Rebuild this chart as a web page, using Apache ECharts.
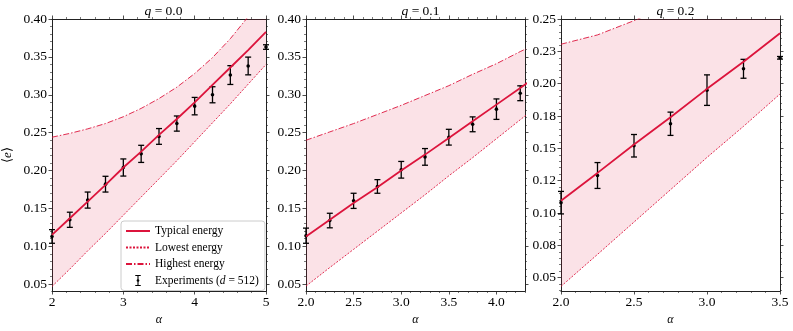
<!DOCTYPE html>
<html>
<head>
<meta charset="utf-8">
<script src="https://cdn.jsdelivr.net/npm/echarts@6/dist/echarts.min.js"></script>
<style>
  html, body { margin: 0; padding: 0; background: #fff; }
  #chart { width: 793px; height: 331px; }
</style>
</head>
<body>
<div id="chart"></div>
<script>
// alpha grid for the theory curves
const alpha1 = [2.0, 2.25, 2.5, 2.75, 3.0, 3.25, 3.5, 3.75, 4.0, 4.25, 4.5, 4.75, 5.0];
const alpha2 = [2.0, 2.25, 2.5, 2.75, 3.0, 3.25, 3.5, 3.75, 4.0, 4.25, 4.5];
const alpha3 = [2.0, 2.25, 2.5, 2.75, 3.0, 3.25, 3.5];

// q = 0.0
const typical1 = [0.115, 0.137, 0.159, 0.181, 0.204, 0.225, 0.247, 0.268, 0.290, 0.313, 0.336, 0.359, 0.383];
const lowest1  = [0.047, 0.070, 0.094, 0.117, 0.141, 0.165, 0.189, 0.213, 0.238, 0.263, 0.288, 0.314, 0.340];
const highest1 = [0.244, 0.249, 0.255, 0.262, 0.271, 0.282, 0.295, 0.310, 0.328, 0.349, 0.374, 0.403, 0.436];
const expX1 = [2.0, 2.25, 2.5, 2.75, 3.0, 3.25, 3.5, 3.75, 4.0, 4.25, 4.5, 4.75, 5.0];
const expY1 = [0.113, 0.135, 0.161, 0.182, 0.204, 0.222, 0.245, 0.262, 0.285, 0.300, 0.326, 0.338, 0.363];
const expE1 = [0.009, 0.010, 0.0106, 0.0104, 0.0113, 0.0113, 0.0104, 0.010, 0.0115, 0.0106, 0.0124, 0.0117, 0.003];

// q = 0.1
const typical2 = [0.113, 0.135, 0.157, 0.178, 0.200, 0.221, 0.243, 0.265, 0.287, 0.309, 0.331];
const lowest2  = [0.0475, 0.072, 0.096, 0.120, 0.144, 0.168, 0.193, 0.217, 0.242, 0.267, 0.292];
const highest2 = [0.240, 0.251, 0.262, 0.274, 0.286, 0.299, 0.312, 0.327, 0.341, 0.357, 0.372];
const expX2 = [2.0, 2.25, 2.5, 2.75, 3.0, 3.25, 3.5, 3.75, 4.0, 4.25];
const expY2 = [0.114, 0.134, 0.160, 0.179, 0.201, 0.218, 0.244, 0.261, 0.281, 0.302];
const expE2 = [0.010, 0.0096, 0.010, 0.009, 0.011, 0.011, 0.0104, 0.0098, 0.0135, 0.0098];

// q = 0.2
const typical3 = [0.1095, 0.131, 0.153, 0.174, 0.196, 0.217, 0.239];
const lowest3  = [0.0433, 0.068, 0.093, 0.118, 0.143, 0.167, 0.192];
const highest3 = [0.2305, 0.2377, 0.2487, 0.261, 0.275, 0.290, 0.306];
const expX3 = [2.0, 2.25, 2.5, 2.75, 3.0, 3.25, 3.5];
const expY3 = [0.108, 0.129, 0.152, 0.169, 0.195, 0.2115, 0.220];
const expE3 = [0.0087, 0.010, 0.0087, 0.009, 0.0118, 0.0073, 0.001];

// ticks
const xTicks1 = [2, 3, 4, 5];
const xLabels1 = ['2', '3', '4', '5'];
const xTicks2 = [2.0, 2.5, 3.0, 3.5, 4.0];
const xLabels2 = ['2.0', '2.5', '3.0', '3.5', '4.0'];
const xTicks3 = [2.0, 2.5, 3.0, 3.5];
const xLabels3 = ['2.0', '2.5', '3.0', '3.5'];
const yTicks12 = [0.05, 0.10, 0.15, 0.20, 0.25, 0.30, 0.35, 0.40];
const yLabels12 = ['0.05', '0.10', '0.15', '0.20', '0.25', '0.30', '0.35', '0.40'];
const yTicks3 = [0.05, 0.075, 0.10, 0.125, 0.15, 0.175, 0.20, 0.225, 0.25];
const yLabels3 = ['0.05', '0.08', '0.10', '0.12', '0.15', '0.18', '0.20', '0.23', '0.25'];

const RED = '#dc143c';
const BAND = 'rgba(220, 20, 60, 0.12)';
const FONT = 'Liberation Serif';
const AX = '#222';

const panels = [
  { grid: { left: 51, top: 19, width: 215, height: 276 }, title: '0.0',
    xMin: 2, xMax: 5, xTicks: xTicks1, xLabels: xLabels1, xMinor: 0.2,
    yMin: 0.041, yMax: 0.40, yTicks: yTicks12, yLabels: yLabels12, yMinor: 0.01,
    alpha: alpha1, typ: typical1, low: lowest1, high: highest1, ex: expX1, ey: expY1, ee: expE1 },
  { grid: { left: 306, top: 19, width: 219, height: 276 }, title: '0.1',
    xMin: 2, xMax: 4.3, xTicks: xTicks2, xLabels: xLabels2, xMinor: 0.1,
    yMin: 0.041, yMax: 0.40, yTicks: yTicks12, yLabels: yLabels12, yMinor: 0.01,
    alpha: alpha2, typ: typical2, low: lowest2, high: highest2, ex: expX2, ey: expY2, ee: expE2 },
  { grid: { left: 561, top: 19, width: 219, height: 276 }, title: '0.2',
    xMin: 2, xMax: 3.5, xTicks: xTicks3, xLabels: xLabels3, xMinor: 0.1,
    yMin: 0.0397, yMax: 0.25, yTicks: yTicks3, yLabels: yLabels3, yMinor: 0.005,
    alpha: alpha3, typ: typical3, low: lowest3, high: highest3, ex: expX3, ey: expY3, ee: expE3 }
];

function minorTicks(min, max, step, major) {
  const out = [];
  for (let k = Math.ceil(min / step - 1e-9); k * step <= max + 1e-9; k++) {
    const v = +(k * step).toFixed(6);
    if (!major.some(m => Math.abs(m - v) < 1e-9)) out.push(v);
  }
  return out;
}

function labelFor(ticks, labels) {
  return function (v) {
    let best = 0;
    ticks.forEach((t, i) => { if (Math.abs(t - v) < Math.abs(ticks[best] - v)) best = i; });
    return labels[best];
  };
}

// 4 axes per direction: main, main minor, mirror, mirror minor
function makeAxes(g, p, dir) {
  const isX = dir === 'x';
  const min = isX ? p.xMin : p.yMin, max = isX ? p.xMax : p.yMax;
  const major = isX ? p.xTicks : p.yTicks;
  const minor = minorTicks(min, max, isX ? p.xMinor : p.yMinor, major);
  const pos = isX ? ['bottom', 'top'] : ['left', 'right'];
  const base = { type: 'value', gridIndex: g, min: min, max: max, splitLine: { show: false } };
  const axes = [];
  pos.forEach((ps, k) => {
    axes.push(Object.assign({}, base, {
      position: ps,
      axisLine: { show: true, onZero: false, lineStyle: { color: AX, width: 1 } },
      axisTick: { show: true, customValues: major, length: 3.5, lineStyle: { color: AX, width: 0.8 } },
      axisLabel: k === 0 ? {
        show: true, customValues: major, formatter: labelFor(major, isX ? p.xLabels : p.yLabels),
        color: '#000', fontFamily: FONT, fontSize: 13.5, margin: isX ? 4 : 5
      } : { show: false },
      name: k === 0 && isX ? 'α' : (k === 0 && !isX && g === 0 ? '{b|⟨}{i|e}{b|⟩}' : ''),
      nameLocation: 'middle',
      nameGap: isX ? 23 : 38,
      nameRotate: isX ? 0 : 90,
      nameTextStyle: {
        color: '#000', fontFamily: FONT, fontSize: 12, fontStyle: isX ? 'italic' : 'normal',
        rich: { b: { fontFamily: FONT, fontSize: 13, color: '#000' },
                i: { fontFamily: FONT, fontSize: 13, fontStyle: 'italic', color: '#000' } }
      }
    }));
    axes.push(Object.assign({}, base, {
      position: ps,
      axisLine: { show: false, onZero: false },
      axisTick: { show: true, customValues: minor, length: 2, lineStyle: { color: AX, width: 0.6 } },
      axisLabel: { show: false }
    }));
  });
  return axes;
}

const xAxes = [], yAxes = [], series = [], titles = [];
panels.forEach((p, g) => {
  const xi = xAxes.length, yi = yAxes.length;
  makeAxes(g, p, 'x').forEach(a => xAxes.push(a));
  makeAxes(g, p, 'y').forEach(a => yAxes.push(a));
  titles.push({
    text: '{i|q} = ' + p.title,
    left: p.grid.left + p.grid.width / 2, top: -1, textAlign: 'center',
    textStyle: {
      fontFamily: FONT, fontSize: 13.5, fontWeight: 'normal', color: '#000',
      rich: { i: { fontFamily: FONT, fontSize: 13.5, fontStyle: 'italic', color: '#000' } }
    }
  });
  const pair = arr => p.alpha.map((a, i) => [a, arr[i]]);
  const common = { xAxisIndex: xi, yAxisIndex: yi, symbol: 'none', silent: true };
  // shaded band between lowest and highest energy, one polygon
  series.push({
    type: 'custom', name: 'band' + g, xAxisIndex: xi, yAxisIndex: yi, silent: true, clip: true,
    data: p.alpha.map((a, i) => [a, p.low[i], p.high[i]]),
    renderItem: function (params, api) {
      if (params.dataIndex !== 0) return null;
      const lower = p.alpha.map((a, i) => api.coord([a, p.low[i]]));
      const upper = p.alpha.map((a, i) => api.coord([a, p.high[i]])).reverse();
      return { type: 'polygon', shape: { points: lower.concat(upper) }, style: { fill: BAND } };
    }
  });
  series.push(Object.assign({}, common, {
    type: 'line', name: 'Lowest energy', data: pair(p.low), color: RED,
    lineStyle: { color: RED, width: 0.9, type: [2, 1.5] }
  }));
  series.push(Object.assign({}, common, {
    type: 'line', name: 'Highest energy', data: pair(p.high), color: RED,
    lineStyle: { color: RED, width: 0.9, type: [6, 2, 1.5, 2] }
  }));
  series.push(Object.assign({}, common, {
    type: 'line', name: 'Typical energy', data: pair(p.typ), color: RED,
    lineStyle: { color: RED, width: 1.8 }
  }));
  series.push({
    type: 'custom', name: 'Experiments', xAxisIndex: xi, yAxisIndex: yi, silent: true,
    color: '#000', itemStyle: { color: '#000' },
    data: p.ex.map((x, i) => [x, p.ey[i], p.ee[i]]),
    renderItem: function (params, api) {
      const x = api.value(0), y = api.value(1), e = api.value(2);
      const c = api.coord([x, y]), t = api.coord([x, y + e]), b = api.coord([x, y - e]);
      const st = { stroke: '#000', lineWidth: 1.3 };
      return {
        type: 'group',
        children: [
          { type: 'line', shape: { x1: c[0], y1: t[1], x2: c[0], y2: b[1] }, style: st },
          { type: 'line', shape: { x1: c[0] - 3, y1: t[1], x2: c[0] + 3, y2: t[1] }, style: st },
          { type: 'line', shape: { x1: c[0] - 3, y1: b[1], x2: c[0] + 3, y2: b[1] }, style: st },
          { type: 'circle', shape: { cx: c[0], cy: c[1], r: 1.8 }, style: { fill: '#000' } }
        ]
      };
    }
  });
});

// legend line entries: keep the line, hide the marker
const noMarker = { color: 'rgba(0,0,0,0)', borderColor: 'rgba(0,0,0,0)', borderWidth: 0 };

const chart = echarts.init(document.getElementById('chart'), null, { renderer: 'canvas' });
chart.setOption({
  animation: false,
  backgroundColor: '#fff',
  title: titles,
  grid: panels.map(p => Object.assign({ containLabel: false }, p.grid)),
  xAxis: xAxes,
  yAxis: yAxes,
  legend: {
    left: 121, top: 221, orient: 'vertical',
    data: [
      { name: 'Typical energy', itemStyle: noMarker },
      { name: 'Lowest energy', itemStyle: noMarker },
      { name: 'Highest energy', itemStyle: noMarker },
      { name: 'Experiments', icon: 'path://M3,0H9V1.2H6.6V4.6A1.5,1.5,0,1,1,5.4,4.6V1.2H3ZM5.4,7.4H6.6V10.8H9V12H3V10.8H5.4Z' }
    ],
    itemWidth: 24, itemHeight: 11, itemGap: 4.5,
    padding: [4, 6, 4, 4],
    backgroundColor: 'rgba(255,255,255,0.85)',
    borderColor: '#cccccc', borderWidth: 1, borderRadius: 3,
    formatter: function (name) {
      return name === 'Experiments' ? 'Experiments ({i|d} = 512)' : name;
    },
    textStyle: {
      fontFamily: FONT, fontSize: 11.5, color: '#000',
      rich: { i: { fontFamily: FONT, fontSize: 11.5, fontStyle: 'italic', color: '#000' } }
    }
  },
  series: series
});
</script>
</body>
</html>
